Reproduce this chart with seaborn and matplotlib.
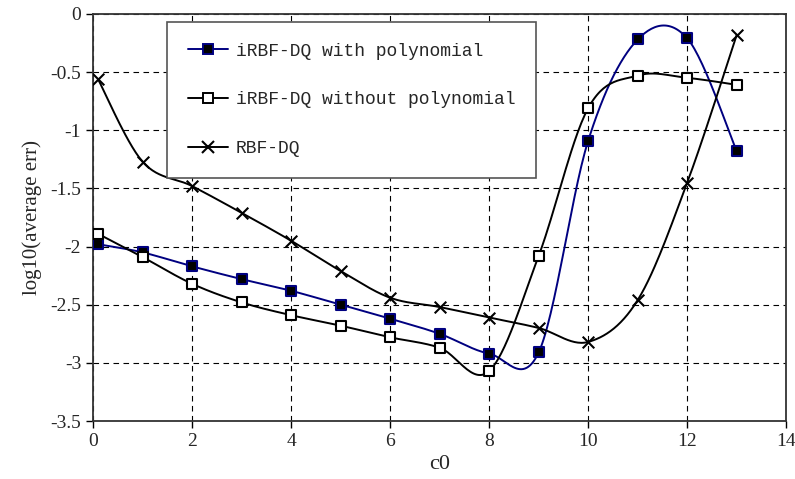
import numpy as np
import pandas as pd
import matplotlib
matplotlib.use("Agg")
import matplotlib.pyplot as plt
import seaborn as sns
from matplotlib.lines import Line2D

c0 = [0.1, 1, 2, 3, 4, 5, 6, 7, 8, 9, 10, 11, 12, 13]
with_poly = [-1.98, -2.05, -2.17, -2.28, -2.38, -2.50, -2.62, -2.75, -2.92, -2.91, -1.09, -0.22, -0.21, -1.18]
without_poly = [-1.89, -2.09, -2.32, -2.48, -2.59, -2.68, -2.78, -2.87, -3.07, -2.08, -0.81, -0.53, -0.55, -0.61]
rbf_dq = [-0.56, -1.27, -1.48, -1.71, -1.95, -2.21, -2.44, -2.52, -2.61, -2.70, -2.82, -2.46, -1.45, -0.18]
labels = ["iRBF-DQ with polynomial", "iRBF-DQ without polynomial", "RBF-DQ"]
ytick_labels = ["-3.5", "-3", "-2.5", "-2", "-1.5", "-1", "-0.5", "0"]


def smooth(xs, ys, n=30):
    """Excel-style smoothed line (Catmull-Rom Bezier) through the data points."""
    P = np.column_stack([xs, ys]).astype(float)
    m = len(P)
    out = []
    t = np.linspace(0, 1, n)
    for i in range(m - 1):
        p0 = P[i - 1] if i > 0 else P[i]
        p1 = P[i]
        p2 = P[i + 1]
        p3 = P[i + 2] if i + 2 < m else P[i + 1]
        b1 = p1 + (p2 - p0) / 6.0
        b2 = p2 - (p3 - p1) / 6.0
        seg = ((1 - t)[:, None] ** 3 * p1 + 3 * ((1 - t) ** 2 * t)[:, None] * b1
               + 3 * ((1 - t) * t ** 2)[:, None] * b2 + (t ** 3)[:, None] * p2)
        out.append(seg if i == 0 else seg[1:])
    s = np.vstack(out)
    return s[:, 0], s[:, 1]


sns.set_style("white")
plt.rcParams["font.family"] = ["Liberation Serif", "DejaVu Serif"]

fig = plt.figure(figsize=(7.95, 4.79), dpi=100)
ax = fig.add_axes([0.117, 0.121, 0.872, 0.850])

navy = "#000080"
series = [
    (with_poly, navy, "s", "black", navy),
    (without_poly, "black", "s", "white", "black"),
    (rbf_dq, "black", "x", "black", "black"),
]

for ys, lc, mk, fc, ec in series:
    sx, sy = smooth(c0, ys)
    sdf = pd.DataFrame({"x": sx, "y": sy})
    sns.lineplot(data=sdf, x="x", y="y", sort=False, color=lc, lw=1.4, ax=ax, zorder=3)
    df = pd.DataFrame({"x": c0, "y": ys})
    if mk == "x":
        sns.scatterplot(data=df, x="x", y="y", marker="x", s=70, color="black",
                        linewidth=1.5, ax=ax, zorder=4)
    else:
        sns.scatterplot(data=df, x="x", y="y", marker="s", s=52, color=fc,
                        edgecolor=ec, linewidth=1.5, ax=ax, zorder=4)

ax.set_xlim(0, 14)
ax.set_ylim(-3.5, 0)
ax.set_xticks(np.arange(0, 15, 2))
ax.set_yticks(np.arange(-3.5, 0.01, 0.5))
ax.set_yticklabels(ytick_labels)
ax.grid(True, color="black", linestyle=(0, (5, 4)), linewidth=0.8)
ax.tick_params(axis="both", direction="out", length=5, width=1, color="black",
               labelsize=14, left=True, bottom=True)
for sp in ax.spines.values():
    sp.set_color("#333333")
    sp.set_linewidth(1.3)
    sp.set_visible(True)

ax.set_xlabel("c0", fontsize=16, labelpad=4)
ax.set_ylabel("log10(average err)", fontsize=15, labelpad=6)

handles = [
    Line2D([], [], color=navy, lw=1.4, marker="s", markersize=7.5, markerfacecolor="black",
           markeredgecolor=navy, markeredgewidth=1.4),
    Line2D([], [], color="black", lw=1.4, marker="s", markersize=7.5, markerfacecolor="white",
           markeredgecolor="black", markeredgewidth=1.4),
    Line2D([], [], color="black", lw=1.4, marker="x", markersize=8.5, markeredgewidth=1.5),
]
leg = ax.legend(handles, labels, loc="upper left", bbox_to_anchor=(0.107, 0.98),
                borderaxespad=0, frameon=True, fancybox=False,
                prop={"family": ["Liberation Mono", "DejaVu Sans Mono"], "size": 13},
                framealpha=1, edgecolor="#555555", labelspacing=1.75, handlelength=2.2,
                handletextpad=0.45, borderpad=1.15)
leg.get_frame().set_linewidth(1.2)
leg.set_zorder(10)

fig.savefig("out.png", dpi=100)
